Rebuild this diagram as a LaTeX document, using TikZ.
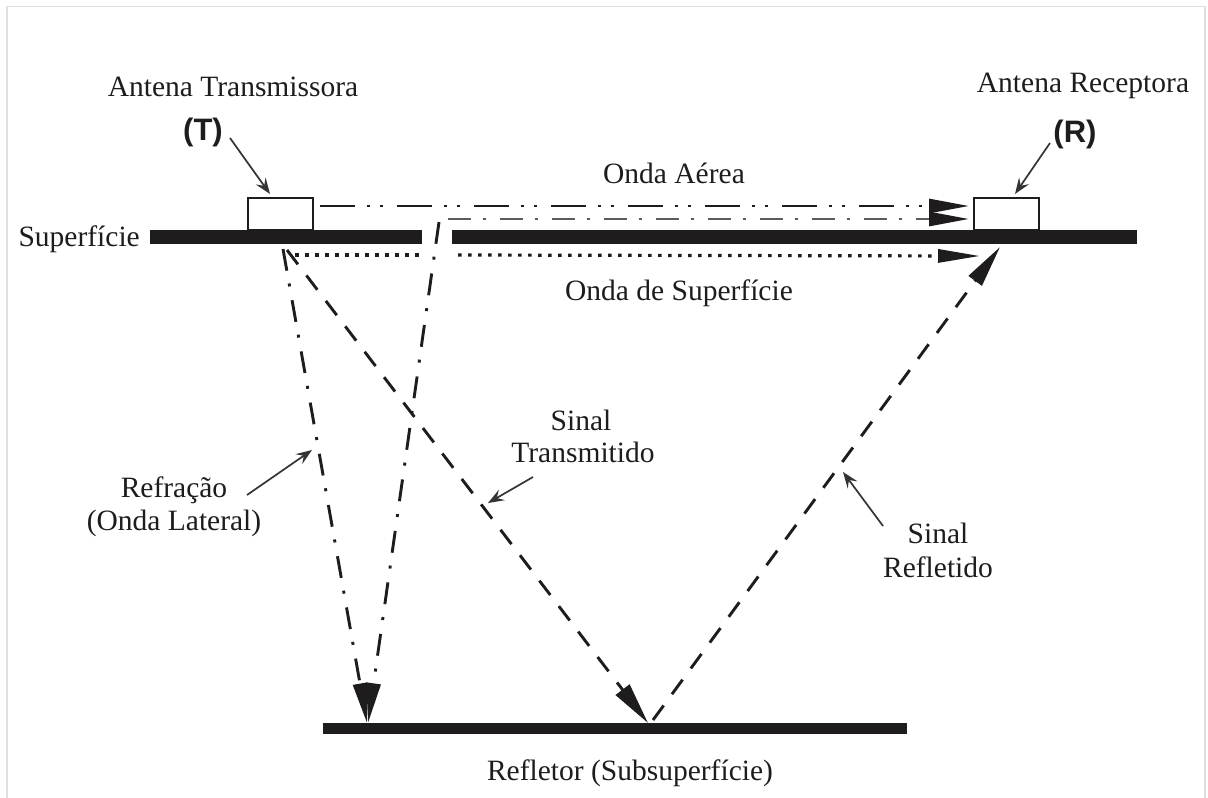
\documentclass[tikz,border=0pt]{standalone}
\usepackage{fontspec}
\setmainfont{Liberation Serif}
\newfontfamily\labsans{Liberation Sans}
\usetikzlibrary{arrows.meta}
\definecolor{ink}{HTML}{1E1C1D}
\definecolor{wavegray}{HTML}{5C5C5C}
\definecolor{framegray}{HTML}{E0E0E0}
\begin{document}
\begin{tikzpicture}[x=1pt,y=-1pt,
  lbl/.style={font=\fontsize{29.5}{33}\selectfont, text=ink, inner sep=0pt, anchor=base},
  tag/.style={font=\labsans\bfseries\fontsize{31}{34}\selectfont, text=ink, inner sep=0pt},
  bar/.style={fill=ink, draw=none, inner sep=0pt, rectangle, minimum height=14pt},
  antbox/.style={draw=ink, line width=1.5pt, fill=white, minimum width=65pt, minimum height=32pt, inner sep=0pt},
  bigtip/.style={-{Triangle[length=40pt,width=14pt,color=ink]}},
  airwave/.style={bigtip, draw=ink, line width=2.9pt, dash pattern=on 35pt off 12pt on 3pt off 10pt on 3pt off 14pt},
  latwave/.style={bigtip, draw=wavegray, line width=2.9pt, dash pattern=on 23pt off 12pt on 3pt off 14pt},
  surfwave/.style={draw=ink, line width=3.2pt, dash pattern=on 3.5pt off 6.5pt},
  refrwave/.style={draw=ink, line width=2.9pt, dash pattern=on 22pt off 13pt on 3pt off 14pt},
  signal/.style={draw=ink, line width=2.9pt, dash pattern=on 18pt off 14pt},
  pointer/.style={draw=ink!90, line width=1.7pt, -{Stealth[length=16pt,width=12pt,inset=6pt]}}
]
\useasboundingbox (0,0) rectangle (1208,798);
\fill[white] (0,0) rectangle (1208,798);
% faint frame
\draw[framegray, line width=1.5pt] (7,798) -- (7,6.5) -- (1205,6.5) -- (1205,798);

% surface and reflector bars
\node[bar, minimum width=272pt] (surfL) at (286,237) {};
\node[bar, minimum width=685pt] (surfR) at (794.5,237) {};
\node[bar, minimum width=584pt, minimum height=11pt] (refl) at (615,728.5) {};

% antennas
\node[antbox] (T) at (280.5,214) {};
\node[antbox] (R) at (1006.5,214) {};

% texts
\node[lbl] (tTx) at (233,96) {Antena Transmissora};
\node[lbl] (tRx) at (1083,92) {Antena Receptora};
\node[tag] (Tlab) at (203,132) {(T)};
\node[tag] (Rlab) at (1075,134) {(R)};
\node[lbl, anchor=base east] (tSup) at (140,246) {Superfície};
\node[lbl] (tAir) at (674,183) {Onda Aérea};
\node[lbl] (tSurf) at (679,300) {Onda de Superfície};
\node[lbl] (tRefr1) at (174,497) {Refração};
\node[lbl] (tRefr2) at (174,530) {(Onda Lateral)};
\node[lbl] (tTr1) at (581,430) {Sinal};
\node[lbl] (tTr2) at (583,462) {Transmitido};
\node[lbl] (tRf1) at (938,543) {Sinal};
\node[lbl] (tRf2) at (938,577) {Refletido};
\node[lbl] (tRefl) at (630,780) {Refletor (Subsuperfície)};

% connector end points
\coordinate (airA) at (320,206);
\coordinate (airB) at (969,206);
\coordinate (latA) at (448,219);
\coordinate (latB) at (969,219);
\coordinate (gap) at (439,222);
\coordinate (sw1) at (295,255);
\coordinate (sw2) at (420,255);
\coordinate (sw3) at (458,255);
\coordinate (sw4) at (980,256);
\coordinate (src1) at (283,249);
\coordinate (src2) at (287,250);
\coordinate (hitA) at (367,723);
\coordinate (hitB) at (368,723);
\coordinate (hitC) at (648,723);
\coordinate (refStart) at (653,720);
\coordinate (rxIn) at (1000,247);

% waves
\draw[airwave] (airA) -- (airB);
\draw[latwave] (latA) -- (latB);
\draw[surfwave] (sw1) -- (sw2);
\draw[surfwave, -{Triangle[length=42pt,width=13pt,color=ink]}] (sw3) -- (sw4);
\draw[refrwave, bigtip] (src1) -- (hitA);
\draw[refrwave, bigtip] (gap) -- (hitB);
\draw[signal, -{Triangle[length=42pt,width=17pt,color=ink]}] (src2) -- (hitC);
\draw[signal, -{Triangle[length=42pt,width=16pt,color=ink]}] (refStart) -- (rxIn);

% label pointers
\coordinate (pT0) at (230,138);   \coordinate (pT1) at (270,194);
\coordinate (pR0) at (1050,143);  \coordinate (pR1) at (1015,194);
\coordinate (pL0) at (247,495);   \coordinate (pL1) at (312,450);
\coordinate (pS0) at (533,477);   \coordinate (pS1) at (488,503);
\coordinate (pF0) at (883,526);   \coordinate (pF1) at (843,472);
\draw[pointer] (pT0) -- (pT1);
\draw[pointer] (pR0) -- (pR1);
\draw[pointer] (pL0) -- (pL1);
\draw[pointer] (pS0) -- (pS1);
\draw[pointer] (pF0) -- (pF1);
\end{tikzpicture}
\end{document}
